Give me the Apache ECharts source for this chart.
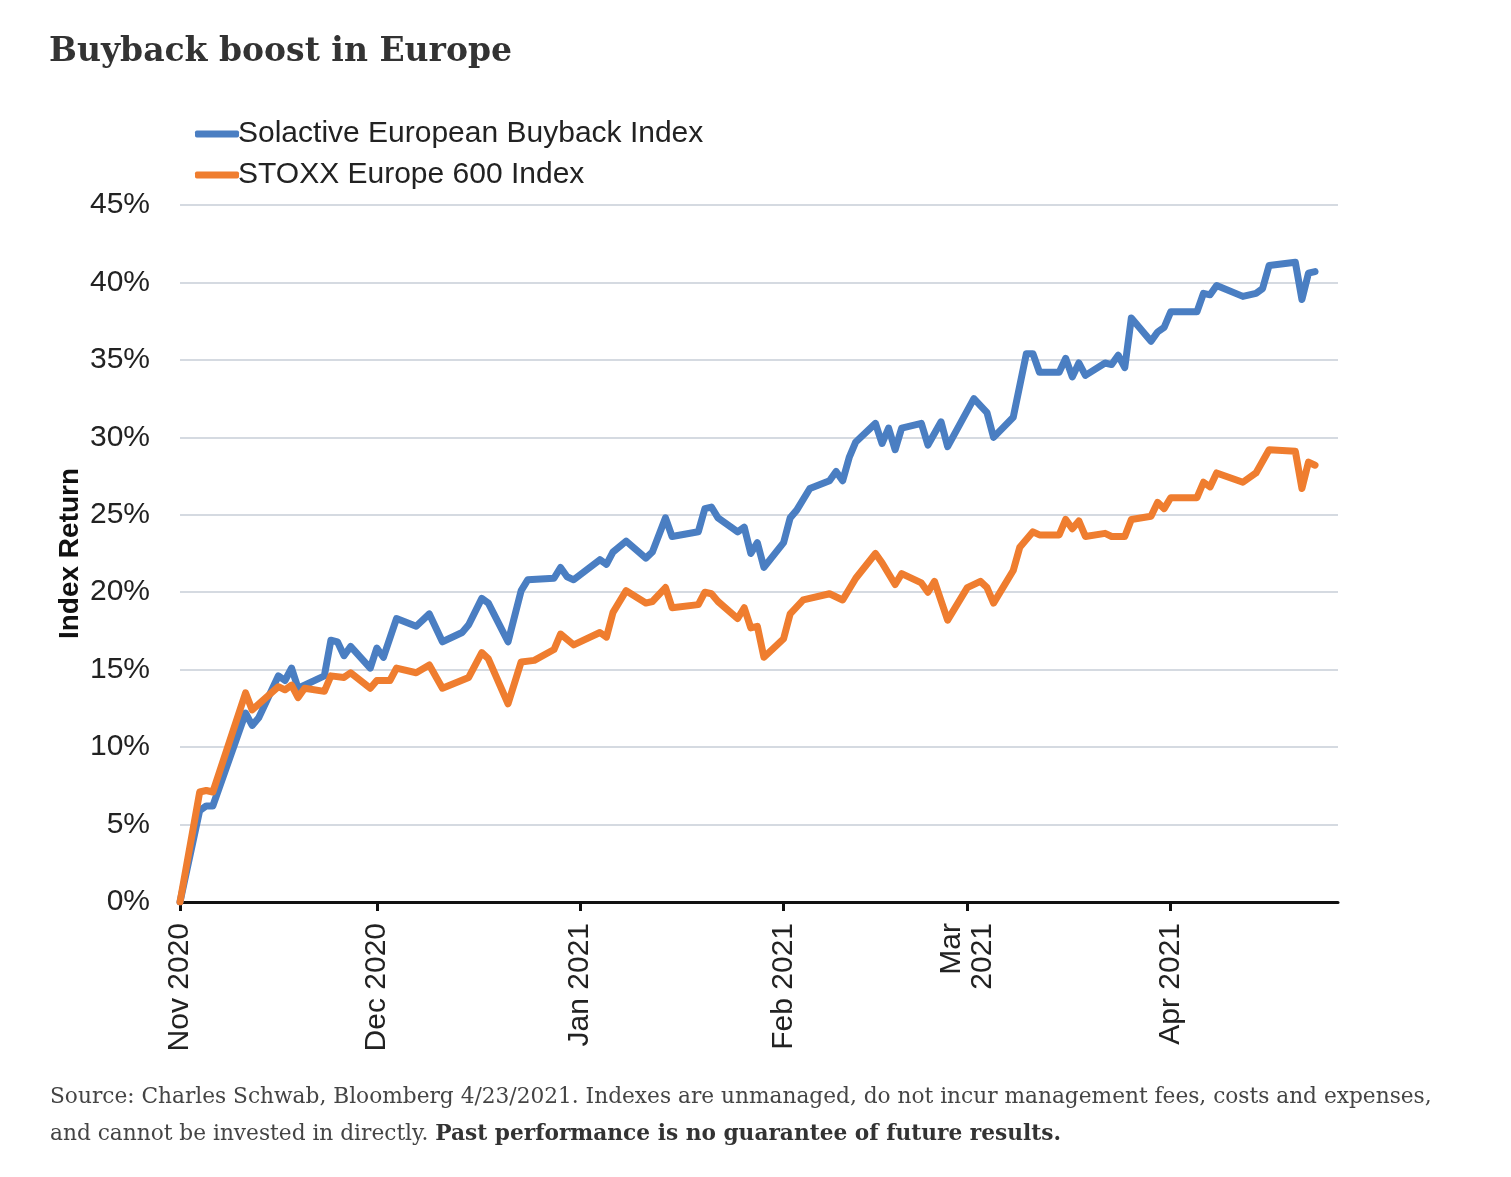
<!DOCTYPE html>
<html>
<head>
    <meta charset="utf-8">
    <title>Buyback boost in Europe</title>
    <script src="https://cdn.jsdelivr.net/npm/echarts@6.0.0/dist/echarts.min.js"></script>
    <style type="text/css">
        html, body { margin: 0; padding: 0; background: #fff; }
        #chart1 { width: 1511px; height: 1177px; }
    </style>
</head>
<body>
<div id="chart1"></div>
<script type="text/javascript">
    // 数据: 两条指数收益率曲线 (%)
    var buybackDates = ['2020-11-01','2020-11-04','2020-11-05','2020-11-06','2020-11-11','2020-11-12','2020-11-13','2020-11-16','2020-11-17','2020-11-18','2020-11-19','2020-11-23','2020-11-24','2020-11-25','2020-11-26','2020-11-27','2020-11-30','2020-12-01','2020-12-02','2020-12-04','2020-12-07','2020-12-09','2020-12-11','2020-12-14','2020-12-15','2020-12-17','2020-12-18','2020-12-21','2020-12-23','2020-12-24','2020-12-28','2020-12-29','2020-12-30','2020-12-31','2021-01-04','2021-01-05','2021-01-06','2021-01-08','2021-01-11','2021-01-12','2021-01-14','2021-01-15','2021-01-19','2021-01-20','2021-01-21','2021-01-22','2021-01-25','2021-01-26','2021-01-27','2021-01-28','2021-01-29','2021-02-01','2021-02-02','2021-02-03','2021-02-05','2021-02-08','2021-02-09','2021-02-10','2021-02-11','2021-02-12','2021-02-15','2021-02-16','2021-02-17','2021-02-18','2021-02-19','2021-02-22','2021-02-23','2021-02-25','2021-02-26','2021-03-02','2021-03-04','2021-03-05','2021-03-08','2021-03-10','2021-03-11','2021-03-12','2021-03-15','2021-03-16','2021-03-17','2021-03-18','2021-03-19','2021-03-22','2021-03-23','2021-03-24','2021-03-25','2021-03-26','2021-03-29','2021-03-30','2021-03-31','2021-04-01','2021-04-05','2021-04-06','2021-04-07','2021-04-08','2021-04-12','2021-04-14','2021-04-15','2021-04-16','2021-04-20','2021-04-21','2021-04-22','2021-04-23'];
    var buybackValues = [0,5.9,6.2,6.2,12.2,11.4,11.9,14.6,14.3,15.1,13.8,14.6,16.9,16.8,15.9,16.5,15.1,16.4,15.8,18.3,17.8,18.6,16.8,17.4,17.9,19.6,19.3,16.8,20.1,20.8,20.9,21.6,21.0,20.8,22.1,21.8,22.6,23.3,22.2,22.6,24.8,23.6,23.9,25.4,25.5,24.8,23.9,24.2,22.5,23.2,21.6,23.2,24.8,25.3,26.7,27.2,27.8,27.2,28.7,29.7,30.9,29.6,30.6,29.2,30.6,30.9,29.5,31.0,29.4,32.5,31.6,30.0,31.3,35.4,35.4,34.2,34.2,35.1,33.9,34.8,34.0,34.8,34.7,35.3,34.5,37.7,36.2,36.8,37.1,38.1,38.1,39.3,39.2,39.8,39.1,39.3,39.6,41.1,41.3,38.9,40.6,40.7];

    var stoxxDates = ['2020-11-01','2020-11-04','2020-11-05','2020-11-06','2020-11-11','2020-11-12','2020-11-16','2020-11-17','2020-11-18','2020-11-19','2020-11-20','2020-11-23','2020-11-24','2020-11-26','2020-11-27','2020-11-30','2020-12-01','2020-12-03','2020-12-04','2020-12-07','2020-12-09','2020-12-11','2020-12-15','2020-12-17','2020-12-18','2020-12-21','2020-12-23','2020-12-25','2020-12-28','2020-12-29','2020-12-31','2021-01-04','2021-01-05','2021-01-06','2021-01-08','2021-01-11','2021-01-12','2021-01-14','2021-01-15','2021-01-19','2021-01-20','2021-01-21','2021-01-22','2021-01-25','2021-01-26','2021-01-27','2021-01-28','2021-01-29','2021-02-01','2021-02-02','2021-02-04','2021-02-08','2021-02-10','2021-02-12','2021-02-15','2021-02-16','2021-02-18','2021-02-19','2021-02-22','2021-02-23','2021-02-24','2021-02-26','2021-03-01','2021-03-03','2021-03-04','2021-03-05','2021-03-08','2021-03-09','2021-03-11','2021-03-12','2021-03-15','2021-03-16','2021-03-17','2021-03-18','2021-03-19','2021-03-22','2021-03-23','2021-03-25','2021-03-26','2021-03-29','2021-03-30','2021-03-31','2021-04-01','2021-04-05','2021-04-06','2021-04-07','2021-04-08','2021-04-12','2021-04-14','2021-04-16','2021-04-20','2021-04-21','2021-04-22','2021-04-23'];
    var stoxxValues = [0,7.1,7.2,7.1,13.5,12.4,13.9,13.7,14.0,13.2,13.8,13.6,14.6,14.5,14.8,13.8,14.3,14.3,15.1,14.8,15.3,13.8,14.5,16.1,15.7,12.8,15.5,15.6,16.3,17.3,16.6,17.4,17.1,18.7,20.1,19.3,19.4,20.3,19.0,19.2,20.0,19.9,19.4,18.3,19.0,17.7,17.8,15.8,17.0,18.6,19.5,19.9,19.5,20.9,22.5,21.9,20.5,21.2,20.6,20.0,20.7,18.2,20.3,20.7,20.3,19.3,21.4,22.9,23.9,23.7,23.7,24.7,24.1,24.6,23.6,23.8,23.6,23.6,24.7,24.9,25.8,25.4,26.1,26.1,27.1,26.8,27.7,27.1,27.7,29.2,29.1,26.7,28.4,28.2];

    var tickDates = ['2020-11-01','2020-12-01','2021-01-01','2021-02-01','2021-03-01','2021-04-01'];
    var tickLabels = ['Nov 2020','Dec 2020','Jan 2021','Feb 2021','Mar\n2021','Apr 2021'];

    // 按本地时间解析日期
    function ts(s) {
        var p = s.split('-');
        return new Date(+p[0], +p[1] - 1, +p[2]).getTime();
    }
    function pairs(dates, values) {
        return dates.map(function (d, i) { return [ts(d), values[i]]; });
    }
    var tickValues = tickDates.map(ts);

    var myChart1 = echarts.init(document.getElementById('chart1'));
    var font = 'Liberation Sans, Arial, sans-serif';
    var serif = 'Georgia, DejaVu Serif, serif';

    myChart1.setOption({
        animation: false,
        backgroundColor: '#fff',
        title: [{
            text: 'Buyback boost in Europe',
            left: 44,
            top: 31,
            textStyle: { fontFamily: serif, fontWeight: 'bold', fontSize: 33, color: '#333' }
        }, {
            text: '{a|Source: Charles Schwab, Bloomberg 4/23/2021. Indexes are unmanaged, do not incur management fees, costs and expenses,}\n'
                + '{a|and cannot be invested in directly. }{b|Past performance is no guarantee of future results.}',
            left: 45,
            top: 1074,
            textStyle: {
                fontWeight: 'normal',
                rich: {
                    a: { fontFamily: serif, fontSize: 21.7, fontWeight: 'normal', color: '#444', lineHeight: 37 },
                    b: { fontFamily: serif, fontSize: 21.7, fontWeight: 'bold', color: '#333', lineHeight: 37 }
                }
            }
        }],
        legend: {
            orient: 'vertical',
            left: 190,
            top: 114,
            itemGap: 11,
            itemWidth: 44,
            itemHeight: 7,
            icon: 'roundRect',
            textStyle: { fontFamily: font, fontSize: 30, color: '#222', padding: [0, 0, 0, -6] },
            data: ['Solactive European Buyback Index', 'STOXX Europe 600 Index']
        },
        grid: { left: 180, right: 173, top: 205, bottom: 275, containLabel: false },
        xAxis: {
            type: 'value',
            min: ts('2020-11-01'),
            max: ts('2021-04-26') + 12 * 3600 * 1000,
            axisLine: { lineStyle: { color: '#111', width: 3 } },
            axisTick: { show: true, customValues: tickValues, length: 9, lineStyle: { color: '#111', width: 3 } },
            axisLabel: {
                customValues: tickValues,
                rotate: 90,
                margin: 21,
                fontFamily: font,
                fontSize: 30,
                color: '#222',
                lineHeight: 31,
                formatter: function (v) {
                    var i = tickValues.indexOf(v);
                    return i >= 0 ? tickLabels[i] : '';
                }
            },
            splitLine: { show: false }
        },
        yAxis: {
            type: 'value',
            min: 0,
            max: 45,
            interval: 5,
            name: 'Index Return',
            nameLocation: 'middle',
            nameGap: 96,
            nameMoveOverlap: false,
            nameTextStyle: { fontFamily: font, fontSize: 28, fontWeight: 'bold', color: '#111' },
            axisLine: { show: false },
            axisTick: { show: false },
            axisLabel: { formatter: '{value}%', margin: 30, fontFamily: font, fontSize: 30, color: '#222' },
            splitLine: { lineStyle: { color: '#d5dae1', width: 2 } }
        },
        series: [{
            name: 'Solactive European Buyback Index',
            type: 'line',
            showSymbol: false,
            symbol: 'none',
            color: '#4a7ec2',
            lineStyle: { width: 7, cap: 'round', join: 'round' },
            data: pairs(buybackDates, buybackValues)
        }, {
            name: 'STOXX Europe 600 Index',
            type: 'line',
            showSymbol: false,
            symbol: 'none',
            color: '#ef7d2f',
            lineStyle: { width: 7, cap: 'round', join: 'round' },
            data: pairs(stoxxDates, stoxxValues)
        }]
    });
</script>
</body>
</html>
